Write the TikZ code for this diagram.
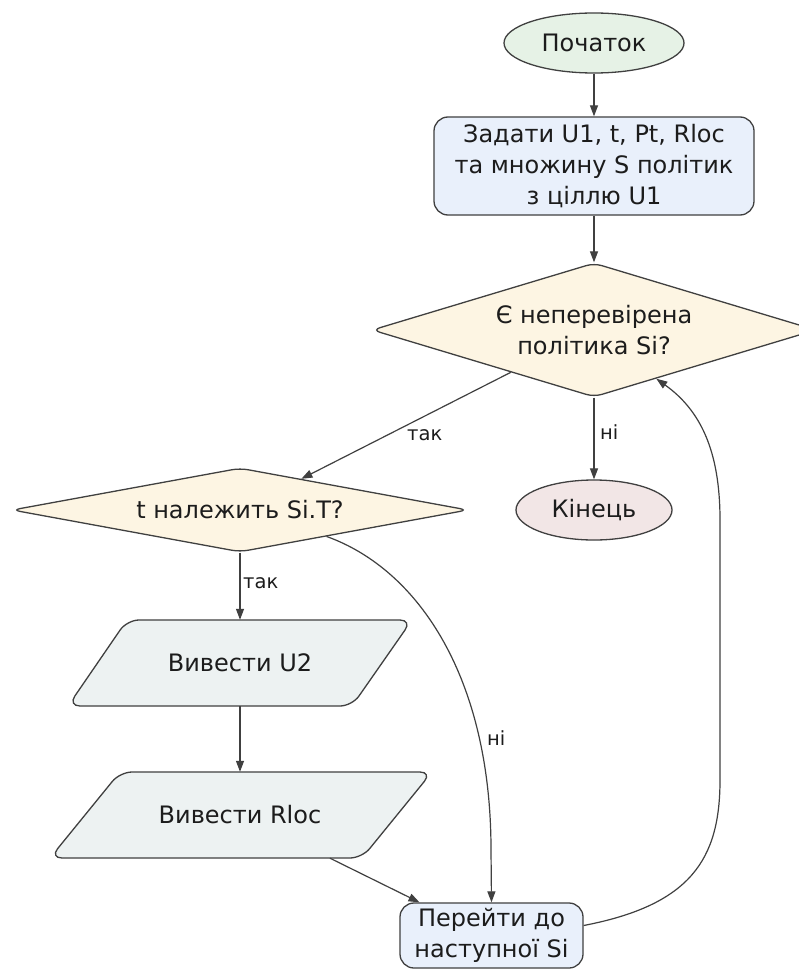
\documentclass[tikz,border=0pt]{standalone}
\usepackage{fontspec}
\setmainfont{DejaVu Sans}
\usetikzlibrary{arrows.meta,shapes.geometric}

\definecolor{linec}{HTML}{404040}
\definecolor{txt}{HTML}{1C1C1C}
\definecolor{startfill}{HTML}{E6F2E6}
\definecolor{procfill}{HTML}{E9F0FB}
\definecolor{decfill}{HTML}{FDF5E3}
\definecolor{endfill}{HTML}{F2E6E6}
\definecolor{iofill}{HTML}{EDF2F2}

\tikzset{
  mainfont/.style={font=\fontsize{24}{31}\selectfont},
  base/.style={draw=linec, line width=1.3pt, text=txt, mainfont, align=center, inner sep=0pt},
  terminal/.style={base, ellipse},
  process/.style={base, rectangle, rounded corners=14pt, fill=procfill},
  decision/.style={base, diamond, rounded corners=8pt, fill=decfill},
  iotext/.style={text=txt, mainfont, inner sep=0pt, minimum height=86pt, minimum width=240pt},
  ioshape/.style={draw=linec, line width=1.3pt, fill=iofill, rounded corners=12pt},
  flow/.style={draw=linec, line width=1.2pt, -{Triangle[length=11pt,width=8pt]}},
  lbl/.style={text=txt, font=\fontsize{19.5}{22}\selectfont, inner sep=0pt},
}

\begin{document}
\begin{tikzpicture}[x=1pt, y=-1pt]
\useasboundingbox (0,0) rectangle (799,971);
\clip (0,0) rectangle (799,971);
\fill[white] (0,0) rectangle (799,971);

% input/output blocks (parallelograms)
\path[ioshape] (127,620) -- (412,620) -- (352,706) -- (68,706) -- cycle;
\path[ioshape] (120,772) -- (432,772) -- (362,858) -- (50,858) -- cycle;

% nodes
\node[terminal, fill=startfill, minimum width=180pt, minimum height=60pt] (start) at (594,43) {Початок};
\node[process, minimum width=320pt, minimum height=98pt] (setup) at (594,166)
  {Задати U1, t, Pt, Rloc\\та множину S політик\\з ціллю U1};
\node[decision, aspect=3.3, minimum width=444pt, minimum height=134pt] (q1) at (594,330)
  {Є неперевірена\\політика Si?};
\node[decision, aspect=5.4, minimum width=456pt, minimum height=84pt] (q2) at (240,510)
  {t належить Si.T?};
\node[terminal, fill=endfill, minimum width=156pt, minimum height=60pt] (stop) at (594,510) {Кінець};
\node[iotext] (u2) at (240,663) {Вивести U2};
\node[iotext] (rloc) at (240,815) {Вивести Rloc};
\node[process, minimum width=183pt, minimum height=65pt] (next) at (491.5,935.5)
  {Перейти до\\наступної Si};

% connectors
\draw[flow] (start) -- (setup);
\draw[flow] (setup) -- (q1);
\draw[flow] (q1) -- (q2);
\draw[flow] (q1) -- (stop);
\draw[flow] (q2) -- (u2);
\draw[flow] (u2) -- (rloc);
\draw[flow] (q2.-17) .. controls (420,570) and (491,680) .. (491,850) -- (next.north);
\draw[flow] ([xshift=90pt]rloc.south) -- ([xshift=-72pt]next.north);
\draw[flow] ([yshift=10pt]next.east) .. controls (690,905) and (720,860) .. (720,780)
  -- (720,520) .. controls (720,450) and (700,410) .. (q1.-38);

% branch labels
\node[lbl, anchor=west] (l1) at (407,435) {так};
\node[lbl, anchor=west] (l2) at (600,432) {ні};
\node[lbl, anchor=west] (l3) at (243,583) {так};
\node[lbl, anchor=west] (l4) at (487,738) {ні};
\end{tikzpicture}
\end{document}
